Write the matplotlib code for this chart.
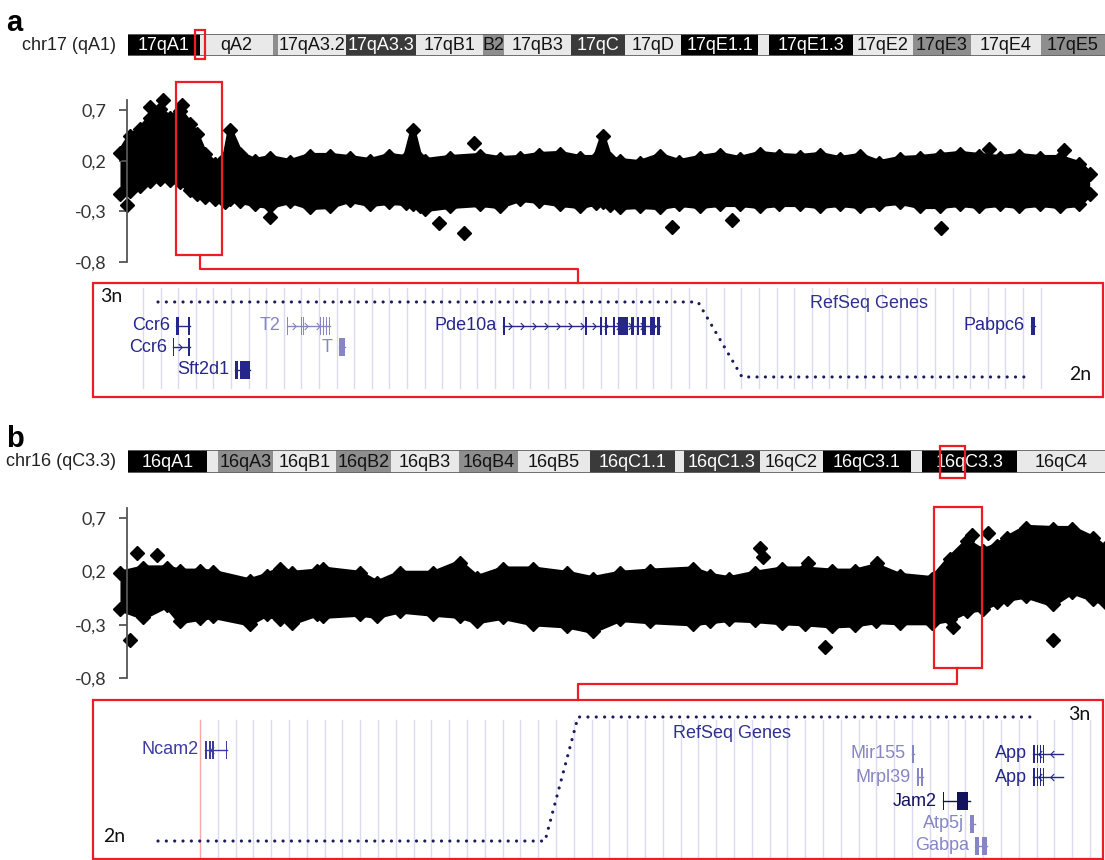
import numpy as np
import matplotlib
matplotlib.use("Agg")
import matplotlib.pyplot as plt
from matplotlib.patches import Rectangle
from matplotlib.path import Path

W, H = 1105, 860

# ---- copy-number scatter, chr17 (panel a): envelope of the point cloud + outliers
pos_a = [0, 1.0, 2.0, 2.9, 3.9, 4.9, 5.9, 6.9, 7.5, 8.3, 9.3, 10.3, 10.8, 11.8, 13.2,
         14.7, 16.7, 18.6, 20.6, 22.5, 24.5, 26.4, 28.0, 28.7, 29.4, 29.9, 32.3, 35.3,
         37.2, 39.2, 41.1, 43.1, 45.1, 46.6, 47.3, 48.0, 49.0, 50.9, 52.9, 54.8, 56.8,
         58.8, 60.7, 62.7, 64.6, 66.6, 68.6, 70.5, 72.5, 74.4, 76.4, 78.4, 80.3, 82.3,
         84.2, 86.2, 88.1, 90.1, 92.1, 94.0, 95.0]
upper_a = [0.28, 0.44, 0.51, 0.62, 0.71, 0.62, 0.69, 0.56, 0.46, 0.27, 0.17, 0.23, 0.50,
           0.27, 0.20, 0.23, 0.19, 0.25, 0.25, 0.23, 0.20, 0.25, 0.23, 0.50, 0.22, 0.20,
           0.23, 0.25, 0.22, 0.23, 0.26, 0.27, 0.23, 0.23, 0.44, 0.22, 0.20, 0.18, 0.25,
           0.19, 0.23, 0.26, 0.22, 0.27, 0.25, 0.24, 0.26, 0.22, 0.25, 0.18, 0.22, 0.23,
           0.25, 0.27, 0.25, 0.23, 0.25, 0.23, 0.23, 0.17, 0.07]
lower_a = [-0.13, -0.10, -0.05, 0.00, 0.02, 0.01, -0.01, -0.09, -0.13, -0.16, -0.18, -0.21,
           -0.18, -0.20, -0.23, -0.25, -0.20, -0.26, -0.25, -0.19, -0.23, -0.21, -0.22,
           -0.23, -0.25, -0.28, -0.25, -0.23, -0.25, -0.18, -0.20, -0.23, -0.25, -0.22,
           -0.21, -0.24, -0.26, -0.25, -0.26, -0.23, -0.25, -0.23, -0.23, -0.25, -0.23,
           -0.23, -0.25, -0.23, -0.25, -0.23, -0.21, -0.25, -0.25, -0.23, -0.25, -0.23,
           -0.25, -0.23, -0.25, -0.23, -0.13]
out_pos_a = [0.7, 2.9, 4.2, 6.1, 14.7, 31.3, 33.7, 34.7, 54.1, 60.0, 80.4, 85.1, 92.5]
out_val_a = [-0.24, 0.73, 0.80, 0.75, -0.36, -0.41, -0.51, 0.38, -0.45, -0.39, -0.46, 0.32, 0.31]

# ---- chr16 (panel b)
pos_b = [0, 2.3, 4.6, 5.9, 7.8, 9.1, 12.7, 14.4, 15.7, 16.9, 19.3, 19.9, 23.5, 25.2, 27.4,
         30.7, 33.3, 35.0, 37.5, 40.5, 43.8, 46.3, 49.0, 51.9, 56.1, 57.8, 59.7, 62.2,
         64.9, 67.1, 69.8, 72.0, 74.1, 76.4, 79.6, 81.3, 83.0, 84.5, 85.9, 86.9, 88.8,
         91.4, 93.3, 95.3, 96.5]
upper_b = [0.18, 0.23, 0.23, 0.20, 0.20, 0.19, 0.11, 0.16, 0.22, 0.18, 0.20, 0.22, 0.18,
           0.09, 0.18, 0.18, 0.28, 0.14, 0.22, 0.22, 0.18, 0.13, 0.18, 0.20, 0.22, 0.16,
           0.13, 0.18, 0.22, 0.22, 0.20, 0.20, 0.25, 0.16, 0.13, 0.32, 0.48, 0.39, 0.44,
           0.51, 0.61, 0.60, 0.60, 0.51, 0.42]
lower_b = [-0.15, -0.23, -0.12, -0.27, -0.24, -0.22, -0.29, -0.20, -0.25, -0.28, -0.20,
           -0.22, -0.20, -0.22, -0.17, -0.20, -0.22, -0.27, -0.23, -0.29, -0.31, -0.36,
           -0.25, -0.27, -0.29, -0.27, -0.25, -0.26, -0.28, -0.29, -0.31, -0.30, -0.27,
           -0.28, -0.28, -0.25, -0.17, -0.15, -0.09, -0.06, -0.03, -0.11, 0.01, -0.06,
           -0.09]
out_pos_b = [1.0, 1.7, 3.6, 62.7, 63.0, 67.4, 74.2, 69.1, 91.4, 81.6, 83.5, 85.0]
out_val_b = [-0.44, 0.37, 0.35, 0.42, 0.33, 0.28, 0.28, -0.51, -0.44, -0.32, 0.54, 0.56]

y_ticks = [-0.8, -0.3, 0.2, 0.7]
y_tick_labels = ["-0,8", "-0,3", "0,2", "0,7"]

# ---- ideogram bands (band edges along the bar)
edges_a = [0, 72, 145, 150, 218, 288, 355, 376, 443, 497, 553, 630, 641, 725, 785, 843, 913, 977]
names_a = ["17qA1", "qA2", "", "17qA3.2", "17qA3.3", "17qB1", "B2", "17qB3", "17qC", "17qD",
           "17qE1.1", "", "17qE1.3", "17qE2", "17qE3", "17qE4", "17qE5"]
stains_a = ["black", "light", "gray", "light", "dark", "light", "gray", "light", "dark",
            "light", "black", "light", "black", "light", "gray", "light", "gray"]

edges_b = [0, 79, 90, 145, 208, 263, 331, 390, 462, 547, 556, 632, 695, 783, 794, 889, 977]
names_b = ["16qA1", "", "16qA3", "16qB1", "16qB2", "16qB3", "16qB4", "16qB5", "16qC1.1", "",
           "16qC1.3", "16qC2", "16qC3.1", "", "16qC3.3", "16qC4"]
stains_b = ["black", "light", "gray", "light", "gray", "light", "gray", "light", "dark",
            "light", "dark", "light", "black", "light", "black", "light"]

# ---- zoomed RefSeq tracks
cn_x_a = [65, 605, 649, 934]
cn_y_a = [3, 3, 2, 2]
cn_x_b = [65, 452, 485, 939]
cn_y_b = [2, 2, 3, 3]

genes_a = ["Ccr6", "Ccr6", "Sft2d1", "T2", "T", "Pde10a", "Pabpc6"]
start_a = [83, 80, 142, 194, 246, 410, 938]
end_a = [97, 97, 157, 237, 252, 567, 942]
row_a = [43, 64, 87, 43, 64, 43, 43]
exons_a = [[(83, 86), (95, 97)],
           [(80, 81), (95, 97)],
           [(142, 145), (147, 157)],
           [(194, 195), (208, 209), (210, 211), (227, 228), (230, 231), (233, 234), (236, 237)],
           [(246, 252)],
           [(410, 411.5), (492, 493.5), (507, 509), (512, 514), (520, 522), (525, 535),
            (538, 541), (544, 546), (549, 553), (557, 562), (564, 567)],
           [(938, 942)]]
strand_a = ["", "+", "", "+", "", "+", ""]
shade_a = ["dark", "dark", "dark", "light", "light", "dark", "dark"]

genes_b = ["Ncam2", "Mir155", "Mrpl39", "Jam2", "Atp5j", "Gabpa", "App", "App"]
start_b = [112, 819, 824, 850, 877, 882, 940, 940]
end_b = [134, 821, 830, 877, 882, 894, 970, 970]
row_b = [50, 54, 77, 101, 124, 146, 54, 77]
exons_b = [[(112, 114), (116, 118), (119, 121), (133, 134)],
           [(819, 820.5)],
           [(824, 826), (828, 830)],
           [(850, 851), (864, 875)],
           [(877, 881)],
           [(882, 886), (889, 894)],
           [(940, 942), (944, 945), (947, 948), (950, 951)],
           [(940, 942), (944, 945), (947, 948), (950, 951)]]
strand_b = ["-", "", "", "", "", "", "-", "-"]
shade_b = ["mid", "light", "light", "deep", "light", "light", "dark", "dark"]

STAIN = {"black": "#000000", "dark": "#3a3a3a", "gray": "#8e8e8e", "light": "#e9e9e9"}
GENE = {"deep": "#12125e", "dark": "#26268a", "mid": "#3c3ca2", "light": "#8686c6"}
RED = "#ee1c25"
CN_COL = "#1b1b5c"

plt.rcParams["font.family"] = ["Liberation Sans", "DejaVu Sans"]


def box(x0, y0, x1, y1):
    return [x0 / W, 1 - y1 / H, (x1 - x0) / W, (y1 - y0) / H]


fig = plt.figure(figsize=(W / 100, H / 100), dpi=100)


def scatter_panel(rect, ylim, pos, up, lo, opos, oval):
    ax = fig.add_axes(rect)
    ax.patch.set_alpha(0)
    ax.fill_between(pos, lo, up, color="black", lw=0, clip_on=False)
    ax.plot(pos, up, color="black", lw=4, clip_on=False, solid_joinstyle="round")
    ax.plot(pos, lo, color="black", lw=4, clip_on=False, solid_joinstyle="round")
    for vals in (up, lo):
        ax.plot(pos, vals, "D", color="black", ms=7.5, clip_on=False)
    ax.plot(opos, oval, "D", color="black", ms=7.5, clip_on=False)
    ax.set_xlim(0.69, 96.5)
    ax.set_ylim(*ylim)
    for s in ("top", "right", "bottom"):
        ax.spines[s].set_visible(False)
    ax.spines["left"].set_color("#555555")
    ax.spines["left"].set_linewidth(1.3)
    ax.set_xticks([])
    ax.set_yticks(y_ticks)
    ax.set_yticklabels(y_tick_labels, family="Lato")
    ax.tick_params(axis="y", length=6, width=1.3, color="#555555", pad=9,
                   labelsize=13, labelcolor="#333333")
    return ax


def ideogram(rect, edges, names, stains):
    ax = fig.add_axes(rect)
    starts = np.array(edges[:-1])
    widths = np.diff(edges)
    cols = [STAIN[s] for s in stains]
    ax.bar(starts, 1, width=widths, align="edge", color=cols, lw=0)
    for x0, w, n, s in zip(starts, widths, names, stains):
        tc = "white" if s in ("black", "dark") else "#111111"
        ax.text(x0 + w / 2, 0.47, n, ha="center", va="center", color=tc, fontsize=13)
    ax.axhline(1, color="#666666", lw=1.3)
    ax.axhline(0, color="#666666", lw=1.3)
    ax.set_xlim(0, edges[-1])
    ax.set_ylim(0, 1)
    ax.axis("off")


chev_right = Path([(-0.5, 1), (0.5, 0), (-0.5, -1)], [Path.MOVETO, Path.LINETO, Path.LINETO])
chev_left = Path([(0.5, 1), (-0.5, 0), (0.5, -1)], [Path.MOVETO, Path.LINETO, Path.LINETO])


def gene_track(rect, height, cnx, cny, cn_ylim, names, starts, ends, rows, exons, strands,
               shades, grid_x0, grid_step, grid_n, grid_y, refseq_xy, label_3n, label_2n,
               pink_first=False):
    ax = fig.add_axes(rect)
    ax.set_xlim(0, 1010)
    ax.set_ylim(height, 0)
    ax.axis("off")
    for k in range(grid_n):
        gx = grid_x0 + k * grid_step
        col = "#f4a8a8" if (pink_first and k == 0) else "#dadaf3"
        ax.plot([gx, gx], grid_y, color=col, lw=1, zorder=0)
    for n, s, e, r, ex, st, sh in zip(names, starts, ends, rows, exons, strands, shades):
        c = GENE[sh]
        ax.plot([s, e], [r, r], color=c, lw=1, zorder=2)
        if st:
            cx = np.arange(s + 7, e - 3, 12)
            ax.plot(cx, [r] * len(cx), ls="none", marker=chev_right if st == "+" else chev_left,
                    ms=5, mfc="none", mec=c, mew=0.8, zorder=2)
        for a, b in ex:
            ax.add_patch(Rectangle((a, r - 9), b - a, 18, color=c, lw=0, zorder=3))
        ax.text(s - 6, r, n, ha="right", va="center", color=c, fontsize=13)
    ax.text(*refseq_xy, "RefSeq Genes", ha="center", va="center", color="#30308e", fontsize=13)
    ax.text(*label_3n, "3n", ha="center", va="center", color="#111111", fontsize=14, family="Lato")
    ax.text(*label_2n, "2n", ha="center", va="center", color="#111111", fontsize=14, family="Lato")
    cn = ax.twinx()
    cn.set_ylim(*cn_ylim)
    cn.axis("off")
    cn.plot(cnx, cny, color=CN_COL, lw=2.3, ls=(0, (0.01, 2.6)), dash_capstyle="round")
    return ax


# panel a
ideogram(box(128, 34, 1105, 56), edges_a, names_a, stains_a)
scatter_panel(box(127, 100, 1105, 262), (-0.8, 0.8), pos_a, upper_a, lower_a, out_pos_a, out_val_a)
gene_track(box(93, 283, 1103, 397), 114, cn_x_a, cn_y_a, (1.733, 3.253),
           genes_a, start_a, end_a, row_a, exons_a, strand_a, shade_a,
           50, 17.6, 52, (5, 105), (776, 20), (18, 13), (987, 92))

# panel b
ideogram(box(128, 450, 1105, 473), edges_b, names_b, stains_b)
scatter_panel(box(127, 508, 1105, 678), (-0.8, 0.794), pos_b, upper_b, lower_b, out_pos_b, out_val_b)
gene_track(box(93, 700, 1103, 860), 160, cn_x_b, cn_y_b, (1.847, 3.137),
           genes_b, start_b, end_b, row_b, exons_b, strand_b, shade_b,
           107, 17.8, 51, (20, 160), (639, 34), (986, 14), (21, 136), pink_first=True)

# overlay: panel letters, chromosome names, red zoom boxes and connectors
ov = fig.add_axes([0, 0, 1, 1])
ov.set_xlim(0, W)
ov.set_ylim(H, 0)
ov.axis("off")
ov.patch.set_alpha(0)
ov.text(6, 31, "a", fontsize=21, fontweight="bold", va="baseline")
ov.text(6, 447, "b", fontsize=21, fontweight="bold", va="baseline")
ov.text(116, 45, "chr17 (qA1)", ha="right", va="center", fontsize=13, color="#222222")
ov.text(116, 462, "chr16 (qC3.3)", ha="right", va="center", fontsize=13, color="#222222")

red_rects = [(195, 30, 205, 59), (176, 82, 222, 255), (93, 283, 1103, 397),
             (940, 446, 965, 478), (934, 507, 982, 668), (93, 700, 1103, 859)]
for x0, y0, x1, y1 in red_rects:
    ov.add_patch(Rectangle((x0, y0), x1 - x0, y1 - y0, fill=False, ec=RED, lw=1.6))
ov.plot([200, 200, 578, 578], [255, 269, 269, 283], color=RED, lw=1.6)
ov.plot([957, 957, 578, 578], [668, 684, 684, 700], color=RED, lw=1.6)

fig.savefig("out.png", dpi=100)
